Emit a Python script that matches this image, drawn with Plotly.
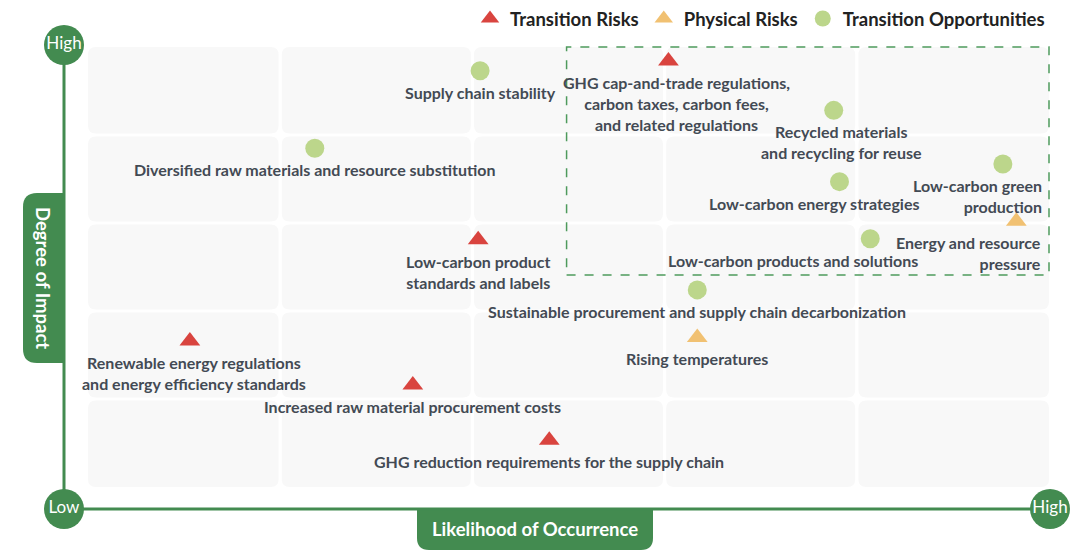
import plotly.graph_objects as go

# ---------------- data ----------------
likelihood_levels = [1, 2, 3, 4, 5]
impact_levels = [1, 2, 3, 4, 5]

series_names = ["Transition Risks", "Physical Risks", "Transition Opportunities"]

names = [
    "Supply chain stability",
    "GHG cap-and-trade regulations,<br>carbon taxes, carbon fees,<br>and related regulations",
    "Recycled materials<br>and recycling for reuse",
    "Diversified raw materials and resource substitution",
    "Low-carbon green<br>production",
    "Low-carbon energy strategies",
    "Energy and resource<br>pressure",
    "Low-carbon products and solutions",
    "Low-carbon product<br>standards and labels",
    "Sustainable procurement and supply chain decarbonization",
    "Renewable energy regulations<br>and energy efficiency standards",
    "Rising temperatures",
    "Increased raw material procurement costs",
    "GHG reduction requirements for the supply chain",
]
categories = [
    "Transition Opportunities", "Transition Risks", "Transition Opportunities",
    "Transition Opportunities", "Transition Opportunities", "Transition Opportunities",
    "Physical Risks", "Transition Opportunities", "Transition Risks",
    "Transition Opportunities", "Transition Risks", "Physical Risks",
    "Transition Risks", "Transition Risks",
]
# likelihood of occurrence (0-5 scale), degree of impact (0-5 scale)
likelihood = [2.04, 3.02, 3.88, 1.18, 4.76, 3.91, 4.83, 4.07, 2.03, 3.17, 0.53, 3.17, 1.69, 2.40]
impact = [4.73, 4.84, 4.28, 3.85, 3.67, 3.47, 3.02, 2.82, 2.81, 2.24, 1.66, 1.70, 1.16, 0.53]

# focus (high priority) zone
focus_likelihood = [2.49, 5.0]
focus_impact = [2.41, 5.0]

axis_end_labels = ["Low", "High", "High"]

# ---------------- styles ----------------
W, H = 1080, 550
GX0, GX1 = 88, 1049     # grid pixel extent (x)
GY0, GY1 = 487, 47      # grid pixel extent (y, bottom/top)
sx = (GX1 - GX0) / 5.0
sy = (GY0 - GY1) / 5.0
xr = [-GX0 / sx, 5 + (W - GX1) / sx]
yr = [-(H - GY0) / sy, 5 + GY1 / sy]

GREEN = "#438B50"
TEXT = "#434A54"
FONT = "Lato"
styles = {
    "Transition Risks": dict(symbol="triangle-up", color="#D9443F", size=18),
    "Physical Risks": dict(symbol="triangle-up", color="#F1C172", size=18),
    "Transition Opportunities": dict(symbol="circle", color="#BCD68B", size=19),
}
# label alignment and pixel shift per point (same order as names)
label_align = ["center", "center", "center", "center", "right", "right", "right",
               "right", "center", "center", "center", "center", "center", "center"]
label_xshift = [0, 8, 8, 0, 41, 82, 27, 50, 0, 0, 4, 0, 0, 0]

fig = go.Figure()

shapes = []
# grid cells with rounded corners
rx, ry = 8 / sx, 8 / sy
gx, gy = 1.6 / sx, 1.6 / sy


def rounded(x0, y0, x1, y1, rx, ry):
    return (f"M{x0 + rx},{y0} L{x1 - rx},{y0} Q{x1},{y0} {x1},{y0 + ry} "
            f"L{x1},{y1 - ry} Q{x1},{y1} {x1 - rx},{y1} L{x0 + rx},{y1} "
            f"Q{x0},{y1} {x0},{y1 - ry} L{x0},{y0 + ry} Q{x0},{y0} {x0 + rx},{y0} Z")


for i, lx in enumerate(likelihood_levels):
    for j, ly in enumerate(impact_levels):
        x0, x1 = lx - 1 + (gx if i > 0 else 0), lx - (gx if i < 4 else 0)
        y0, y1 = ly - 1 + (gy if j > 0 else 0), ly - (gy if j < 4 else 0)
        shapes.append(dict(type="path", path=rounded(x0, y0, x1, y1, rx, ry),
                           fillcolor="#F8F8F8", line=dict(width=0), layer="below",
                           xref="x", yref="y"))

# focus zone dashed rectangle
shapes.append(dict(type="rect", x0=focus_likelihood[0], x1=focus_likelihood[1],
                   y0=focus_impact[0], y1=focus_impact[1], xref="x", yref="y",
                   line=dict(color="#4E9A5C", width=1.5, dash="dash"),
                   fillcolor="rgba(0,0,0,0)", layer="below"))

# axes lines
ax_x = (64 - GX0) / sx
ax_y = (GY0 - 509) / sy
top_y = (GY0 - 45) / sy
right_x = (1050 - GX0) / sx
shapes.append(dict(type="line", x0=ax_x, x1=ax_x, y0=ax_y, y1=top_y, xref="x", yref="y",
                   line=dict(color=GREEN, width=3), layer="below"))
shapes.append(dict(type="line", x0=ax_x, x1=right_x, y0=ax_y, y1=ax_y, xref="x", yref="y",
                   line=dict(color=GREEN, width=3), layer="below"))


# axis title boxes (paper coords; margins are zero)
def px(x):
    return x / W


def py(y):
    return 1 - y / H


def box_path(x0, y0, x1, y1, r, corners):
    # corners: which corners are rounded (tl, tr, br, bl) in pixel space
    tl, tr, br, bl = corners
    rxp, ryp = r / W, r / H
    X0, X1, Y0, Y1 = px(x0), px(x1), py(y0), py(y1)  # Y0 top, Y1 bottom
    p = f"M{X0 + (rxp if tl else 0)},{Y0} L{X1 - (rxp if tr else 0)},{Y0} "
    if tr:
        p += f"Q{X1},{Y0} {X1},{Y0 - ryp} "
    p += f"L{X1},{Y1 + (ryp if br else 0)} "
    if br:
        p += f"Q{X1},{Y1} {X1 - rxp},{Y1} "
    p += f"L{X0 + (rxp if bl else 0)},{Y1} "
    if bl:
        p += f"Q{X0},{Y1} {X0},{Y1 + ryp} "
    p += f"L{X0},{Y0 - (ryp if tl else 0)} "
    if tl:
        p += f"Q{X0},{Y0} {X0 + rxp},{Y0} "
    return p + "Z"


shapes.append(dict(type="path", path=box_path(23, 193, 64, 363, 14, (True, False, False, True)),
                   xref="paper", yref="paper", fillcolor=GREEN, line=dict(width=0), layer="below"))
shapes.append(dict(type="path", path=box_path(417, 509, 653, 550, 12, (False, False, True, True)),
                   xref="paper", yref="paper", fillcolor=GREEN, line=dict(width=0), layer="below"))

# points per category
for s in series_names:
    idx = [k for k, c in enumerate(categories) if c == s]
    st = styles[s]
    fig.add_trace(go.Scatter(
        x=[likelihood[k] for k in idx], y=[impact[k] for k in idx],
        mode="markers", name=s,
        marker=dict(symbol=st["symbol"], color=st["color"], size=st["size"], line=dict(width=0)),
        hoverinfo="skip", cliponaxis=False))

# axis end circles
fig.add_trace(go.Scatter(
    x=[ax_x, ax_x, right_x], y=[ax_y, top_y, ax_y], mode="markers+text",
    text=axis_end_labels, textposition="middle center",
    textfont=dict(family=FONT, size=17, color="white"),
    marker=dict(size=40, color=GREEN, line=dict(width=0)),
    showlegend=False, hoverinfo="skip", cliponaxis=False))

annotations = []
for k, n in enumerate(names):
    al = label_align[k]
    annotations.append(dict(
        x=likelihood[k], y=impact[k], xref="x", yref="y", text=f"<b>{n}</b>",
        showarrow=False, xanchor="right" if al == "right" else "center",
        yanchor="top", align=al, xshift=label_xshift[k], yshift=-10,
        font=dict(family=FONT, size=16, color=TEXT)))

annotations.append(dict(x=px(43), y=py(278), xref="paper", yref="paper",
                        xanchor="center", yanchor="middle",
                        text="<b>Degree of Impact</b>", textangle=90, showarrow=False,
                        font=dict(family=FONT, size=18.5, color="white")))
annotations.append(dict(x=px(535), y=py(529), xref="paper", yref="paper",
                        xanchor="center", yanchor="middle",
                        text="<b>Likelihood of Occurrence</b>", showarrow=False,
                        font=dict(family=FONT, size=18.5, color="white")))

fig.update_layout(
    width=W, height=H, margin=dict(l=0, r=0, t=0, b=0),
    paper_bgcolor="white", plot_bgcolor="white",
    xaxis=dict(range=xr, visible=False, fixedrange=True),
    yaxis=dict(range=yr, visible=False, fixedrange=True),
    shapes=shapes, annotations=annotations,
    showlegend=True,
    legend=dict(orientation="h", x=px(1050), xanchor="right", y=py(0), yanchor="top",
                font=dict(family=FONT, size=18.5, color="#222222", weight="bold"),
                bgcolor="rgba(0,0,0,0)", itemsizing="trace", itemwidth=30,
                tracegroupgap=0),
    font=dict(family=FONT),
)

fig.write_html("out.html", config={"displayModeBar": False},
               post_script="document.body.style.margin='0';")
